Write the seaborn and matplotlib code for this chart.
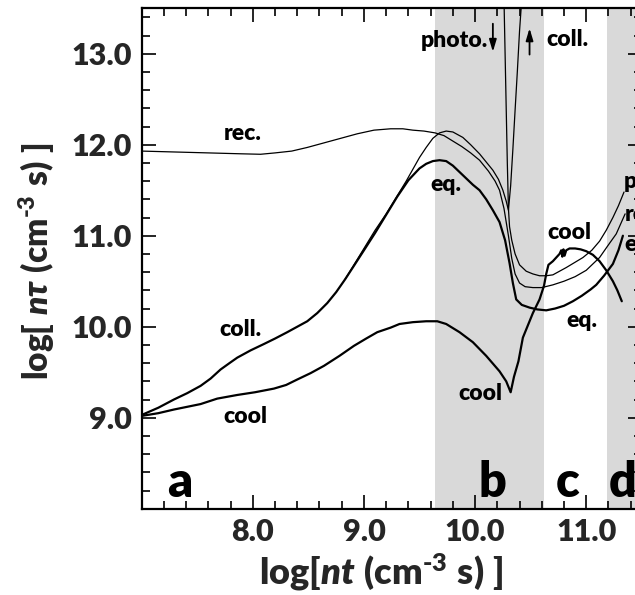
import matplotlib
matplotlib.use("Agg")
import matplotlib.pyplot as plt
import seaborn as sns
from matplotlib.ticker import MultipleLocator, FormatStrFormatter

# ---- data: log(n tau) versus log(n t) ----
# equilibrium curve (coincides with the collisional one at low n t)
eq_x = [7.00, 7.15, 7.29, 7.41, 7.53, 7.62, 7.71, 7.79, 7.86, 7.98, 8.10, 8.20,
        8.31, 8.40, 8.49, 8.58, 8.67, 8.75, 8.83, 8.91, 9.00, 9.10, 9.20, 9.30,
        9.40, 9.50, 9.56, 9.62, 9.68, 9.74, 9.80, 9.86, 9.92, 9.98, 10.04, 10.10,
        10.16, 10.22, 10.27, 10.31, 10.34, 10.37, 10.42, 10.49, 10.56, 10.64,
        10.72, 10.80, 10.88, 10.96, 11.04, 11.09, 11.16, 11.24, 11.29, 11.33]
eq_y = [9.03, 9.11, 9.20, 9.27, 9.35, 9.43, 9.53, 9.60, 9.66, 9.74, 9.81, 9.87,
        9.94, 10.00, 10.06, 10.15, 10.26, 10.38, 10.52, 10.67, 10.84, 11.03, 11.23,
        11.43, 11.61, 11.74, 11.79, 11.82, 11.83, 11.82, 11.77, 11.70, 11.63, 11.56,
        11.50, 11.40, 11.28, 11.15, 10.95, 10.70, 10.48, 10.30, 10.24, 10.21, 10.19,
        10.18, 10.20, 10.23, 10.28, 10.34, 10.41, 10.46, 10.56, 10.69, 10.84, 11.00]

# collisional branch
coll_x = [8.83, 8.91, 9.00, 9.10, 9.20, 9.30, 9.38, 9.44, 9.50, 9.56, 9.62, 9.68,
          9.74, 9.80, 9.89, 9.96, 10.04, 10.10, 10.16, 10.21, 10.25, 10.28, 10.30,
          10.32, 10.34, 10.36, 10.38, 10.40, 10.42]
coll_y = [10.52, 10.68, 10.86, 11.06, 11.24, 11.44, 11.60, 11.73, 11.86, 11.97,
          12.07, 12.13, 12.15, 12.14, 12.08, 12.00, 11.90, 11.81, 11.72, 11.62,
          11.50, 11.38, 11.28, 11.55, 11.95, 12.38, 12.80, 13.25, 13.60]

# recombination
rec_x = [7.00, 7.30, 7.60, 7.90, 8.07, 8.20, 8.35, 8.49, 8.64, 8.79, 8.94, 9.09,
         9.24, 9.35, 9.44, 9.54, 9.64, 9.72, 9.80, 9.88, 9.96, 10.04, 10.12, 10.18,
         10.22, 10.26, 10.30, 10.33, 10.36, 10.40, 10.45, 10.52, 10.60, 10.70, 10.80,
         10.90, 11.00, 11.12, 11.20, 11.27, 11.35]
rec_y = [11.93, 11.92, 11.91, 11.90, 11.895, 11.91, 11.93, 11.97, 12.02, 12.07,
         12.12, 12.16, 12.175, 12.175, 12.16, 12.15, 12.13, 12.10, 12.04, 11.98,
         11.91, 11.83, 11.71, 11.60, 11.50, 11.30, 11.00, 10.75, 10.58, 10.48,
         10.44, 10.43, 10.43, 10.46, 10.50, 10.55, 10.62, 10.76, 10.90, 11.02, 11.24]

# photo-ionisation
photo_x = [10.26, 10.27, 10.28, 10.29, 10.30, 10.31, 10.33, 10.36, 10.40, 10.46,
           10.52, 10.58, 10.64, 10.70, 10.82, 10.97, 11.05, 11.12, 11.18, 11.24,
           11.29, 11.34]
photo_y = [13.60, 13.00, 12.40, 11.80, 11.30, 11.10, 10.95, 10.80, 10.68, 10.61,
           10.58, 10.56, 10.56, 10.57, 10.65, 10.76, 10.84, 10.94, 11.06, 11.20,
           11.33, 11.48]

# cooling
cool_x = [7.00, 7.15, 7.29, 7.41, 7.53, 7.68, 7.86, 8.02, 8.19, 8.30, 8.40, 8.52,
          8.64, 8.78, 8.91, 9.02, 9.12, 9.24, 9.32, 9.44, 9.56, 9.66, 9.74, 9.86,
          9.98, 10.10, 10.22, 10.28, 10.32, 10.35, 10.39, 10.43, 10.49, 10.52,
          10.58, 10.62, 10.64, 10.66, 10.70, 10.73, 10.76, 10.775, 10.785, 10.795,
          10.805, 10.82, 10.85, 10.90, 10.95, 11.00, 11.06, 11.12, 11.18, 11.24,
          11.28, 11.32]
cool_y = [9.02, 9.05, 9.09, 9.12, 9.15, 9.21, 9.25, 9.28, 9.32, 9.36, 9.42, 9.49,
          9.57, 9.68, 9.79, 9.87, 9.94, 9.99, 10.03, 10.05, 10.06, 10.06, 10.03,
          9.94, 9.83, 9.68, 9.51, 9.40, 9.28, 9.45, 9.62, 9.88, 10.06, 10.15,
          10.30, 10.45, 10.58, 10.68, 10.72, 10.76, 10.80, 10.84, 10.77, 10.85,
          10.78, 10.84, 10.86, 10.86, 10.85, 10.83, 10.79, 10.72, 10.62, 10.50,
          10.40, 10.28]

x_ticks = [8.0, 9.0, 10.0, 11.0]
y_ticks = [9.0, 10.0, 11.0, 12.0, 13.0]
shaded = [(9.637, 10.62), (11.19, 11.70)]
regions = ["a", "b", "c", "d"]

# ---- style ----
sns.set_theme(style="white")
plt.rcParams["font.family"] = ["Lato", "DejaVu Sans"]
plt.rcParams["font.weight"] = "heavy"
plt.rcParams["mathtext.fontset"] = "custom"
plt.rcParams["mathtext.rm"] = "Lato:weight=heavy"
plt.rcParams["mathtext.bf"] = "Lato:weight=heavy"
plt.rcParams["mathtext.it"] = "Lato:italic:weight=heavy"
plt.rcParams["mathtext.fallback"] = "stix"

fig = plt.figure(figsize=(6.35, 5.95), dpi=100)
ax = fig.add_axes([0.2231, 0.145, 0.7876, 0.8412])

for lo, hi in shaded:
    ax.axvspan(lo, hi, color="#d9d9d9", lw=0, zorder=0)

THICK, THIN = 1.6, 0.9
for xs, ys, lw in [(rec_x, rec_y, THIN), (coll_x, coll_y, THIN),
                   (photo_x, photo_y, THIN), (eq_x, eq_y, THICK),
                   (cool_x, cool_y, THICK)]:
    sns.lineplot(x=xs, y=ys, ax=ax, color="black", lw=lw, sort=False,
                 estimator=None, zorder=3)

ax.set_xlim(7.0, 11.5)
ax.set_ylim(8.0, 13.5)
ax.set_xticks(x_ticks)
ax.set_yticks(y_ticks)
ax.xaxis.set_major_formatter(FormatStrFormatter("%.1f"))
ax.yaxis.set_major_formatter(FormatStrFormatter("%.1f"))
ax.xaxis.set_minor_locator(MultipleLocator(0.2))
ax.yaxis.set_minor_locator(MultipleLocator(0.2))
ax.tick_params(which="both", direction="in", top=True, right=True,
               bottom=True, left=True, color="black", width=1.2)
ax.tick_params(which="major", length=10, labelsize=22, pad=7)
ax.tick_params(which="minor", length=6)
for lab in ax.get_xticklabels() + ax.get_yticklabels():
    lab.set_fontweight("heavy")
for sp in ax.spines.values():
    sp.set_linewidth(1.6)
    sp.set_color("black")

hy = "\u2010"
ax.set_xlabel(r"$\mathbf{log[}\mathit{nt}\ \mathbf{(cm^{" + hy + r"3}\ s)\ ]}$",
              fontsize=26)
ax.set_ylabel(r"$\mathbf{log[}\ \mathit{n\tau}\ \mathbf{(cm^{" + hy + r"3}\ s)\ ]}$",
              fontsize=24)
ax.xaxis.set_label_coords(0.48, -0.085)
ax.yaxis.set_label_coords(-0.17, 0.495)

small = dict(fontsize=16.5, fontweight="heavy", color="black", zorder=5)
ax.text(7.905, 12.053, "rec.", ha="center", va="baseline", **small)
ax.text(7.89, 9.90, "coll.", ha="center", va="baseline", **small)
ax.text(7.93, 8.94, "cool", ha="center", va="baseline", **small)
ax.text(9.74, 11.495, "eq.", ha="center", va="baseline", **small)
ax.text(10.05, 9.19, "cool", ha="center", va="baseline", **small)
ax.text(10.85, 10.96, "cool", ha="center", va="baseline", **small)
ax.text(10.96, 10.0, "eq.", ha="center", va="baseline", **small)
ax.text(10.115, 13.07, "photo.", ha="right", va="baseline", **small)
ax.text(10.64, 13.09, "coll.", ha="left", va="baseline", **small)
ax.text(11.335, 11.52, "photo.", ha="left", va="baseline", **small)
ax.text(11.35, 11.165, "rec.", ha="left", va="baseline", **small)
ax.text(11.345, 10.835, "eq.", ha="left", va="baseline", **small)

arrow = dict(arrowstyle="-|>,head_length=0.6,head_width=0.18", color="black", lw=1.3)
ax.annotate("", xy=(10.16, 12.99), xytext=(10.16, 13.36), arrowprops=arrow)
ax.annotate("", xy=(10.49, 13.31), xytext=(10.49, 12.96), arrowprops=arrow)

big = dict(fontsize=35, fontweight="heavy", color="black", ha="left",
           va="baseline", zorder=5)
for letter, xpos in zip(regions, [7.23, 10.03, 10.73, 11.20]):
    ax.text(xpos, 8.13, letter, **big)

fig.savefig("out.png", dpi=100)
